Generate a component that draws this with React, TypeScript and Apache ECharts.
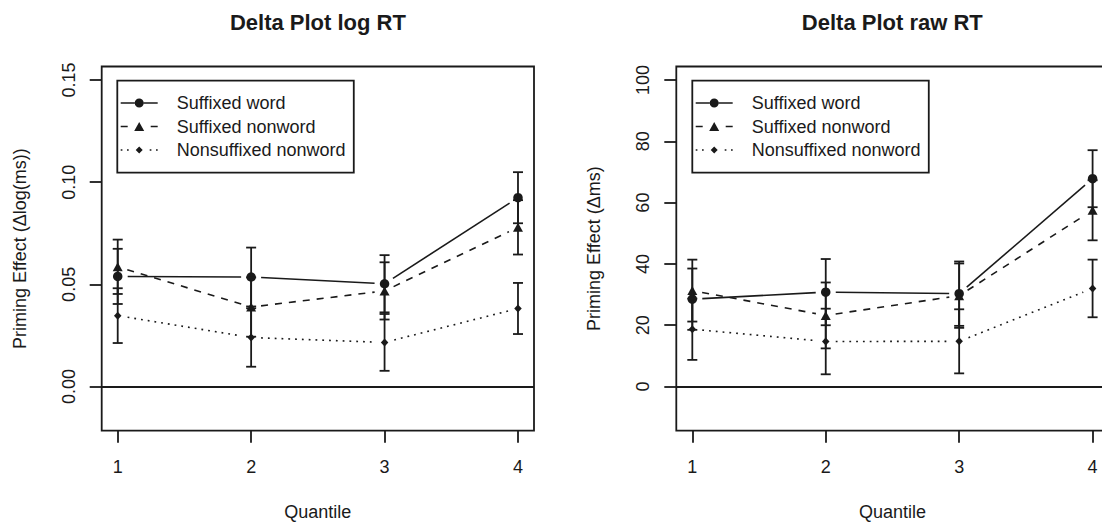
import { useEffect, useRef } from "react";
import * as echarts from "echarts";

// ---------- data ----------
const quantiles = [1, 2, 3, 4];
const xTicks = [1, 2, 3, 4];
const xTickLabels = ["1", "2", "3", "4"];
const seriesNames = ["Suffixed word", "Suffixed nonword", "Nonsuffixed nonword"];

// log RT panel
const logWord = [0.0539, 0.0536, 0.0503, 0.0924];
const logWordErr = [0.0135, 0.0144, 0.014, 0.0125];
const logSufNon = [0.0586, 0.0389, 0.0468, 0.0779];
const logSufNonErr = [0.0133, 0.0145, 0.014, 0.0133];
const logNonsuf = [0.0347, 0.024, 0.0216, 0.0382];
const logNonsufErr = [0.0134, 0.0143, 0.0139, 0.0125];
const logTicks = [0, 0.05, 0.1, 0.15];
const logTickLabels = ["0.00", "0.05", "0.10", "0.15"];
const logYRange = [-0.015, 0.15];

// raw RT panel
const rawWord = [28.5, 30.8, 30.3, 67.8];
const rawWordErr = [10.0, 10.8, 10.5, 9.3];
const rawSufNon = [31.3, 23.2, 29.65, 57.5];
const rawSufNonErr = [10.1, 10.75, 10.5, 9.8];
const rawNonsuf = [18.7, 14.7, 14.75, 32.0];
const rawNonsufErr = [10.0, 10.7, 10.45, 9.4];
const rawTicks = [0, 20, 40, 60, 80, 100];
const rawTickLabels = ["0", "20", "40", "60", "80", "100"];
const rawYRange = [-10, 100];

const xRange = [1, 4];

const titles = ["Delta Plot log RT", "Delta Plot raw RT"];
const yNames = ["Priming Effect (\u0394log(ms))", "Priming Effect (\u0394ms)"];
const xName = "Quantile";

// ---------- styling ----------
const FONT = "'Liberation Sans', Arial, Helvetica, sans-serif";
const INK = "#1a1a1a";
const ext = (r: number[]) => {
  const d = (r[1] - r[0]) * 0.04;
  return [r[0] - d, r[1] + d];
};

const panels = [
  {
    values: [logWord, logSufNon, logNonsuf],
    errs: [logWordErr, logSufNonErr, logNonsufErr],
    ticks: logTicks,
    tickLabels: logTickLabels,
    yRange: logYRange,
    gridLeft: 101.7,
    legendLeft: 117.3,
    center: 317.9,
  },
  {
    values: [rawWord, rawSufNon, rawNonsuf],
    errs: [rawWordErr, rawSufNonErr, rawNonsufErr],
    ticks: rawTicks,
    tickLabels: rawTickLabels,
    yRange: rawYRange,
    gridLeft: 676.3,
    legendLeft: 692.3,
    center: 892.3,
  },
];

const GRID_TOP = 66.5;
const GRID_H = 364.2;
const GRID_W = 432.3;

const markerStyles = [
  { symbol: "circle", size: 9.5, dash: null as number[] | null },
  { symbol: "triangle", size: [10, 9], dash: [7, 7] },
  { symbol: "diamond", size: [7.5, 8], dash: [1.8, 5] },
];

const legendIcons = [
  "path://M0 3.7H14V5.3H0Z M23 3.7H37V5.3H23Z M14 4.5A4.5 4.5 0 1 1 23 4.5A4.5 4.5 0 1 1 14 4.5Z",
  "path://M0 3.7H7V5.3H0Z M30 3.7H37V5.3H30Z M18.5 0L23.5 9H13.5Z",
  "path://M0 3.7H1.7V5.3H0Z M6.3 3.7H8V5.3H6.3Z M29 3.7H30.7V5.3H29Z M35.3 3.7H37V5.3H35.3Z M18.5 1L22 4.5L18.5 8L15 4.5Z M18.5 0.2V0.6H18.6V0.2Z M18.5 8.4V8.8H18.6V8.4Z",
];

const GAP = 10;

function buildOption() {
  const grids: any[] = [];
  const xAxes: any[] = [];
  const yAxes: any[] = [];
  const series: any[] = [];
  const legends: any[] = [];
  const titleOpts: any[] = [];
  const xr = ext(xRange);

  panels.forEach((pn, p) => {
    const yr = ext(pn.yRange);
    grids.push({
      left: pn.gridLeft,
      top: GRID_TOP,
      width: GRID_W,
      height: GRID_H,
      show: true,
      borderColor: INK,
      borderWidth: 1.8,
      backgroundColor: "rgba(0,0,0,0)",
      containLabel: false,
      outerBoundsMode: "none",
    });
    xAxes.push({
      type: "value",
      gridIndex: p,
      position: "bottom",
      min: xr[0],
      max: xr[1],
      axisLine: { show: false, onZero: false },
      splitLine: { show: false },
      axisTick: {
        show: true,
        customValues: xTicks,
        length: 12,
        lineStyle: { color: INK, width: 1.8 },
      },
      axisLabel: {
        customValues: xTicks,
        formatter: (v: number) => xTickLabels[xTicks.indexOf(Math.round(v))] ?? "",
        margin: 27,
        fontSize: 18,
        color: INK,
        fontFamily: FONT,
      },
      name: xName,
      nameLocation: "middle",
      nameGap: 72,
      nameTextStyle: { fontSize: 18, color: INK, fontFamily: FONT },
    });
    yAxes.push({
      type: "value",
      gridIndex: p,
      position: "left",
      min: yr[0],
      max: yr[1],
      axisLine: { show: false, onZero: false },
      splitLine: { show: false },
      axisTick: {
        show: true,
        customValues: pn.ticks,
        length: 12,
        lineStyle: { color: INK, width: 1.8 },
      },
      axisLabel: {
        customValues: pn.ticks,
        rotate: 90,
        margin: 24,
        formatter: (v: number) => {
          let best = 0;
          pn.ticks.forEach((t, i) => {
            if (Math.abs(t - v) < Math.abs(pn.ticks[best] - v)) best = i;
          });
          return pn.tickLabels[best];
        },
        fontSize: 18,
        color: INK,
        fontFamily: FONT,
      },
      name: yNames[p],
      nameLocation: "middle",
      nameGap: 73,
      nameTextStyle: { fontSize: 18, color: INK, fontFamily: FONT },
    });

    titleOpts.push({
      text: titles[p],
      left: pn.center,
      top: 22,
      padding: 0,
      textAlign: "center",
      textVerticalAlign: "middle",
      textStyle: { fontSize: 22, fontWeight: "bold", color: INK, fontFamily: FONT },
    });

    legends.push({
      orient: "vertical",
      left: pn.legendLeft,
      top: 80.7,
      padding: [13.3, 8.3, 13.7, 3.4],
      itemGap: 5.5,
      itemWidth: 37,
      itemHeight: 9,
      selectedMode: false,
      borderColor: INK,
      borderWidth: 1.8,
      borderRadius: 0,
      backgroundColor: "rgba(0,0,0,0)",
      textStyle: { fontSize: 18, color: INK, fontFamily: FONT, padding: [0, 0, 0, 14] },
      data: seriesNames.map((n, k) => ({ name: n, icon: legendIcons[k] })),
    });

    pn.values.forEach((vals, k) => {
      const ms = markerStyles[k];
      const errs = pn.errs[k];
      // connecting lines (R type = "b": gaps around points)
      const segs = quantiles.slice(0, -1).map((q, i) => [q, vals[i], quantiles[i + 1], vals[i + 1]]);
      series.push({
        type: "custom",
        name: `p${p}-line-${k}`,
        xAxisIndex: p,
        yAxisIndex: p,
        silent: true,
        z: 2,
        encode: { x: [0, 2], y: [1, 3] },
        data: segs,
        renderItem: (_params: any, api: any) => {
          const a = api.coord([api.value(0), api.value(1)]);
          const b = api.coord([api.value(2), api.value(3)]);
          const dx = b[0] - a[0];
          const dy = b[1] - a[1];
          const len = Math.hypot(dx, dy) || 1;
          const ux = dx / len;
          const uy = dy / len;
          return {
            type: "line",
            shape: {
              x1: a[0] + ux * GAP,
              y1: a[1] + uy * GAP,
              x2: b[0] - ux * GAP,
              y2: b[1] - uy * GAP,
            },
            style: {
              stroke: INK,
              lineWidth: 1.6,
              lineDash: ms.dash ?? undefined,
              fill: null,
            },
          };
        },
      });
      // points
      const scatter: any = {
        type: "scatter",
        name: seriesNames[k],
        xAxisIndex: p,
        yAxisIndex: p,
        silent: true,
        z: 3,
        symbol: ms.symbol,
        symbolSize: ms.size,
        itemStyle: { color: INK, opacity: 1 },
        emphasis: { disabled: true },
        data: quantiles.map((q, i) => [q, vals[i]]),
      };
      if (k === 0) {
        scatter.markLine = {
          silent: true,
          symbol: ["none", "none"],
          label: { show: false },
          lineStyle: { color: INK, width: 1.8, type: "solid" },
          emphasis: { disabled: true },
          data: [{ yAxis: 0 }],
        };
      }
      series.push(scatter);
      // error bars
      series.push({
        type: "custom",
        name: `p${p}-err-${k}`,
        xAxisIndex: p,
        yAxisIndex: p,
        silent: true,
        z: 4,
        encode: { x: 0, y: 1 },
        data: quantiles.map((q, i) => [q, vals[i], errs[i]]),
        renderItem: (_params: any, api: any) => {
          const x = api.value(0);
          const y = api.value(1);
          const e = api.value(2);
          const top = api.coord([x, y + e]);
          const bot = api.coord([x, y - e]);
          const st = { stroke: INK, lineWidth: 1.8, fill: null };
          return {
            type: "group",
            children: [
              { type: "line", shape: { x1: top[0], y1: top[1], x2: bot[0], y2: bot[1] }, style: st },
              { type: "line", shape: { x1: top[0] - 5, y1: top[1], x2: top[0] + 5, y2: top[1] }, style: st },
              { type: "line", shape: { x1: bot[0] - 5, y1: bot[1], x2: bot[0] + 5, y2: bot[1] }, style: st },
            ],
          };
        },
      });
    });
  });

  return {
    animation: false,
    backgroundColor: "#ffffff",
    textStyle: { fontFamily: FONT },
    title: titleOpts,
    legend: legends,
    grid: grids,
    xAxis: xAxes,
    yAxis: yAxes,
    series,
  };
}

export default function App() {
  const ref = useRef<HTMLDivElement | null>(null);
  useEffect(() => {
    if (!ref.current) return;
    const chart = echarts.init(ref.current, undefined, { renderer: "svg" });
    chart.setOption(buildOption() as any);
    return () => chart.dispose();
  }, []);
  return (
    <div
      ref={ref}
      style={{ position: "absolute", left: 0, top: 0, width: 1102, height: 525, background: "#fff" }}
    />
  );
}
